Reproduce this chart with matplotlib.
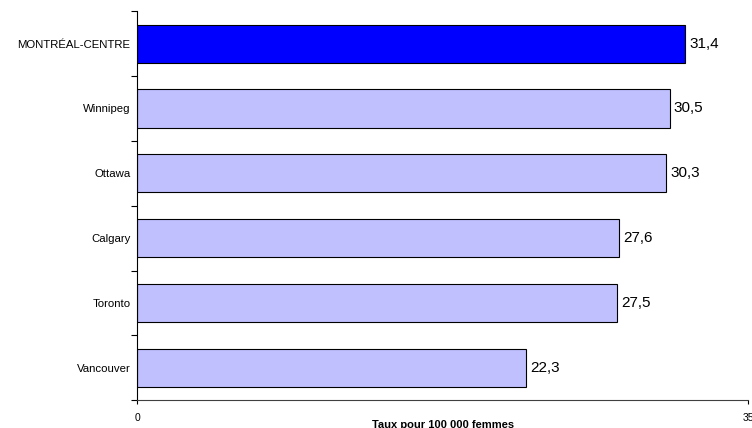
import matplotlib.pyplot as plt
import numpy as np

plt.rcParams['font.family'] = ['Liberation Sans', 'DejaVu Sans']

regions = ["MONTRÉAL-CENTRE", "Winnipeg", "Ottawa", "Calgary", "Toronto", "Vancouver"]
taux = [31.4, 30.5, 30.3, 27.6, 27.5, 22.3]
etiquettes = ["31,4", "30,5", "30,3", "27,6", "27,5", "22,3"]
colors = ["#0000FF"] + ["#C0C0FF"] * 5

fig = plt.figure(figsize=(7.52, 4.28), dpi=100)
ax = fig.add_axes([0.1828, 0.0647, 0.9947 - 0.1828, 0.9738 - 0.0647])

y = np.arange(len(regions))
ax.barh(y, taux, height=0.588, color=colors, edgecolor="black", linewidth=0.8)

for yi, v, lab in zip(y, taux, etiquettes):
    ax.annotate(lab, (v, yi), xytext=(3, 0), textcoords="offset points",
                va="center", ha="left", fontsize=11)

ax.set_xlim(0, 35)
ax.set_ylim(len(regions) - 0.5, -0.5)

ax.set_yticks(y)
ax.set_yticklabels(regions, fontsize=8.2)
ax.set_yticks(np.arange(-0.5, len(regions), 1), minor=True)
ax.tick_params(axis="y", which="major", length=0, pad=5)
ax.tick_params(axis="y", which="minor", length=4, width=0.8)

ax.set_xticks([0, 35])
ax.set_xticklabels(["0", "35"], fontsize=7.5)
ax.tick_params(axis="x", length=3, width=0.8, pad=6)

ax.spines["top"].set_visible(False)
ax.spines["right"].set_visible(False)
ax.spines["left"].set_linewidth(0.8)
ax.spines["bottom"].set_linewidth(0.8)
ax.spines["bottom"].set_color("#404040")

fig.text(0.589, 0.0, "Taux pour 100 000 femmes", ha="center", va="baseline",
         fontsize=8, fontweight="bold")

fig.savefig("out.png", dpi=100)
